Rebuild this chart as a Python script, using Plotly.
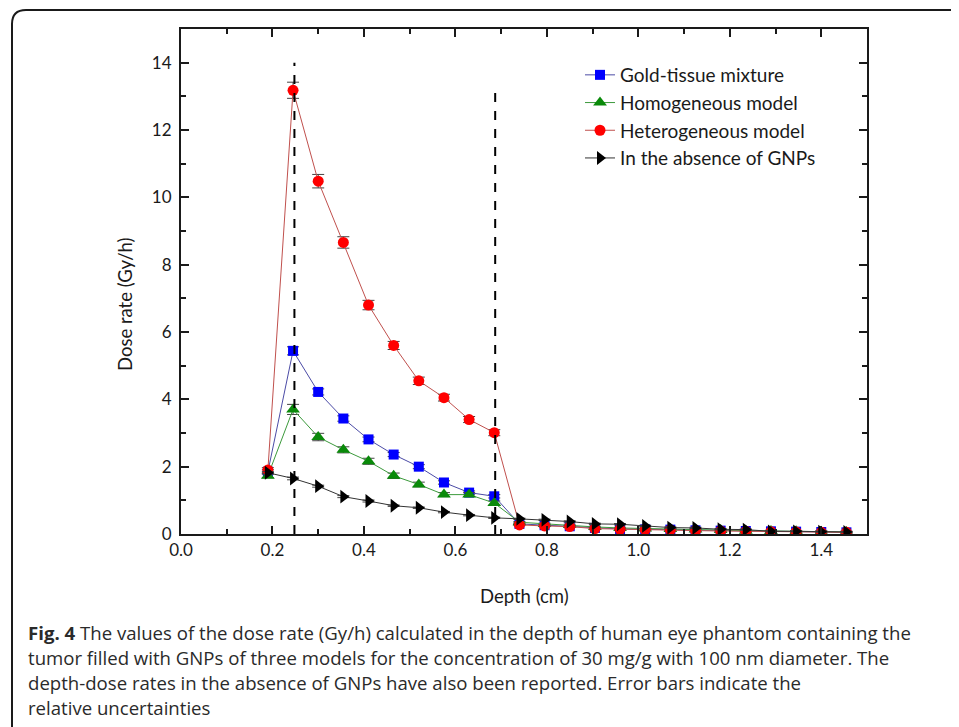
import plotly.graph_objects as go

# ---------------- data ----------------
depth = [0.19, 0.245, 0.30, 0.355, 0.41, 0.465, 0.52, 0.575, 0.63, 0.685,
         0.74, 0.795, 0.85, 0.905, 0.96, 1.015, 1.07, 1.125, 1.18, 1.235,
         1.29, 1.345, 1.40, 1.455]

gold_tissue = [1.85, 5.44, 4.22, 3.43, 2.81, 2.36, 2.00, 1.53, 1.23, 1.12,
               0.30, 0.26, 0.23, 0.18, 0.15, 0.14, 0.13, 0.11, 0.10, 0.09,
               0.08, 0.07, 0.06, 0.05]
gold_tissue_err = [0.06, 0.12, 0.09, 0.08, 0.07, 0.06, 0.06, 0.05, 0.05, 0.05,
                   0.02, 0.02, 0.02, 0.02, 0.02, 0.02, 0.02, 0.02, 0.02, 0.02,
                   0.02, 0.02, 0.02, 0.02]

homogeneous = [1.73, 3.70, 2.88, 2.50, 2.16, 1.73, 1.47, 1.17, 1.17, 0.92,
               0.35, 0.30, 0.27, 0.21, 0.18, 0.16, 0.15, 0.13, 0.12, 0.10,
               0.09, 0.08, 0.07, 0.06]
homogeneous_err = [0.06, 0.15, 0.11, 0.09, 0.09, 0.08, 0.07, 0.06, 0.06, 0.06,
                   0.02, 0.02, 0.02, 0.02, 0.02, 0.02, 0.02, 0.02, 0.02, 0.02,
                   0.02, 0.02, 0.02, 0.02]

heterogeneous = [1.90, 13.18, 10.48, 8.66, 6.80, 5.60, 4.55, 4.05, 3.40, 3.01,
                 0.27, 0.24, 0.22, 0.16, 0.14, 0.13, 0.12, 0.10, 0.09, 0.08,
                 0.07, 0.06, 0.05, 0.05]
heterogeneous_err = [0.07, 0.24, 0.20, 0.17, 0.14, 0.12, 0.11, 0.10, 0.09, 0.09,
                     0.02, 0.02, 0.02, 0.02, 0.02, 0.02, 0.02, 0.02, 0.02, 0.02,
                     0.02, 0.02, 0.02, 0.02]

no_gnps = [1.82, 1.65, 1.42, 1.11, 0.98, 0.84, 0.78, 0.65, 0.56, 0.48,
           0.45, 0.42, 0.37, 0.30, 0.29, 0.24, 0.19, 0.18, 0.14, 0.13,
           0.08, 0.08, 0.07, 0.06]
no_gnps_err = [0.04, 0.04, 0.03, 0.03, 0.03, 0.02, 0.02, 0.02, 0.02, 0.02,
               0.02, 0.02, 0.02, 0.02, 0.02, 0.02, 0.02, 0.02, 0.02, 0.02,
               0.02, 0.02, 0.02, 0.02]

series_names = ["Gold-tissue mixture", "Homogeneous model",
                "Heterogeneous model", "In the absence of GNPs"]

tumor_bounds = [0.248, 0.687]
tumor_bound_tops = [14.0, 13.1]

x_ticks = [0.0, 0.2, 0.4, 0.6, 0.8, 1.0, 1.2, 1.4]
x_tick_text = ["0.0", "0.2", "0.4", "0.6", "0.8", "1.0", "1.2", "1.4"]
y_ticks = [0, 2, 4, 6, 8, 10, 12, 14]

caption_lines = [
    "<b>Fig. 4</b> The values of the dose rate (Gy/h) calculated in the depth of human eye phantom containing the",
    "tumor filled with GNPs of three models for the concentration of 30 mg/g with 100 nm diameter. The",
    "depth-dose rates in the absence of GNPs have also been reported. Error bars indicate the",
    "relative uncertainties",
]

# ---------------- figure ----------------
OFF = 8  # page body margin
W, H = 959, 727
L, T = 181 - OFF, 29 - OFF
PW, PH = 686, 505
R = W - L - PW
B = H - T - PH


def px(xp):
    return (xp - OFF - L) / PW


def py(yp):
    return (T + PH - (yp - OFF)) / PH


FONT = "Lato"
fig = go.Figure()

styles = [
    (gold_tissue, gold_tissue_err, "#4b4ba6", "#0000ff", "square", 10),
    (homogeneous, homogeneous_err, "#3c9a3c", "#0a8a0a", "triangle-up", 12),
    (heterogeneous, heterogeneous_err, "#c0504d", "#ff0000", "circle", 11),
    (no_gnps, no_gnps_err, "#333333", "#000000", "triangle-right", 12),
]

for i, (vals, errs, lcol, mcol, sym, size) in enumerate(styles):
    fig.add_trace(go.Scatter(
        x=depth, y=vals, name=series_names[i], mode="lines+markers",
        line=dict(color=lcol, width=1),
        marker=dict(symbol=sym, size=size, color=mcol, line=dict(width=0)),
        error_y=dict(type="data", array=errs, visible=True,
                     color="#444444", thickness=1, width=6),
    ))

shapes = []
for xb, top in zip(tumor_bounds, tumor_bound_tops):
    shapes.append(dict(type="line", xref="x", yref="y", x0=xb, x1=xb,
                       y0=0, y1=top, line=dict(color="black", width=2, dash="dash")))

# rounded frame around the figure (left & top edges visible)
x0, y0 = px(12), py(10)
x1, y1 = px(985), py(760)
rx, ry = 14 / PW, 14 / PH
path = (f"M {x0},{y1} L {x0},{y0 - ry} Q {x0},{y0} {x0 + rx},{y0} "
        f"L {x1},{y0} L {x1},{y1} Z")
shapes.append(dict(type="path", xref="paper", yref="paper", path=path,
                   line=dict(color="#1a1a1a", width=2), layer="below"))

annotations = [
    dict(text="Dose rate (Gy/h)", xref="paper", yref="paper",
         x=px(125), y=py(304), textangle=-90, showarrow=False,
         font=dict(family=FONT, size=18.5, color="#1a1a1a"),
         xanchor="center", yanchor="middle"),
    dict(text="Depth (cm)", xref="paper", yref="paper",
         x=px(524), y=py(596), showarrow=False,
         font=dict(family=FONT, size=18.5, color="#1a1a1a"),
         xanchor="center", yanchor="middle"),
]
cap_y = [632, 657, 682, 707]
for line, yy in zip(caption_lines, cap_y):
    annotations.append(dict(text=line, xref="paper", yref="paper",
                            x=px(26), y=py(yy), showarrow=False,
                            xanchor="left", yanchor="middle", align="left",
                            font=dict(family="Open Sans", size=18.6, color="#2a2a2a")))

axis_common = dict(showgrid=False, zeroline=False, showline=True,
                   linecolor="#1a1a1a", linewidth=2, mirror="ticks",
                   ticks="inside", ticklen=8, tickwidth=2, tickcolor="#1a1a1a",
                   tickfont=dict(family=FONT, size=17, color="#1a1a1a"))

fig.update_layout(
    width=W, height=H,
    margin=dict(l=L, r=R, t=T, b=B),
    paper_bgcolor="white", plot_bgcolor="white",
    xaxis=dict(range=[0, 1.5], tickvals=x_ticks, ticktext=x_tick_text,
               minor=dict(dtick=0.1, tick0=0, ticks="inside", ticklen=5,
                          tickwidth=2, tickcolor="#1a1a1a"),
               **axis_common),
    yaxis=dict(range=[0, 15], tickvals=y_ticks, ticklabelstandoff=4,
               minor=dict(dtick=1, tick0=0, ticks="inside", ticklen=5,
                          tickwidth=2, tickcolor="#1a1a1a"),
               **axis_common),
    legend=dict(x=px(580), y=py(56), xanchor="left", yanchor="top",
                bgcolor="rgba(0,0,0,0)",
                font=dict(family=FONT, size=19, color="#1a1a1a")),
    shapes=shapes,
    annotations=annotations,
)

fig.write_html("out.html")
